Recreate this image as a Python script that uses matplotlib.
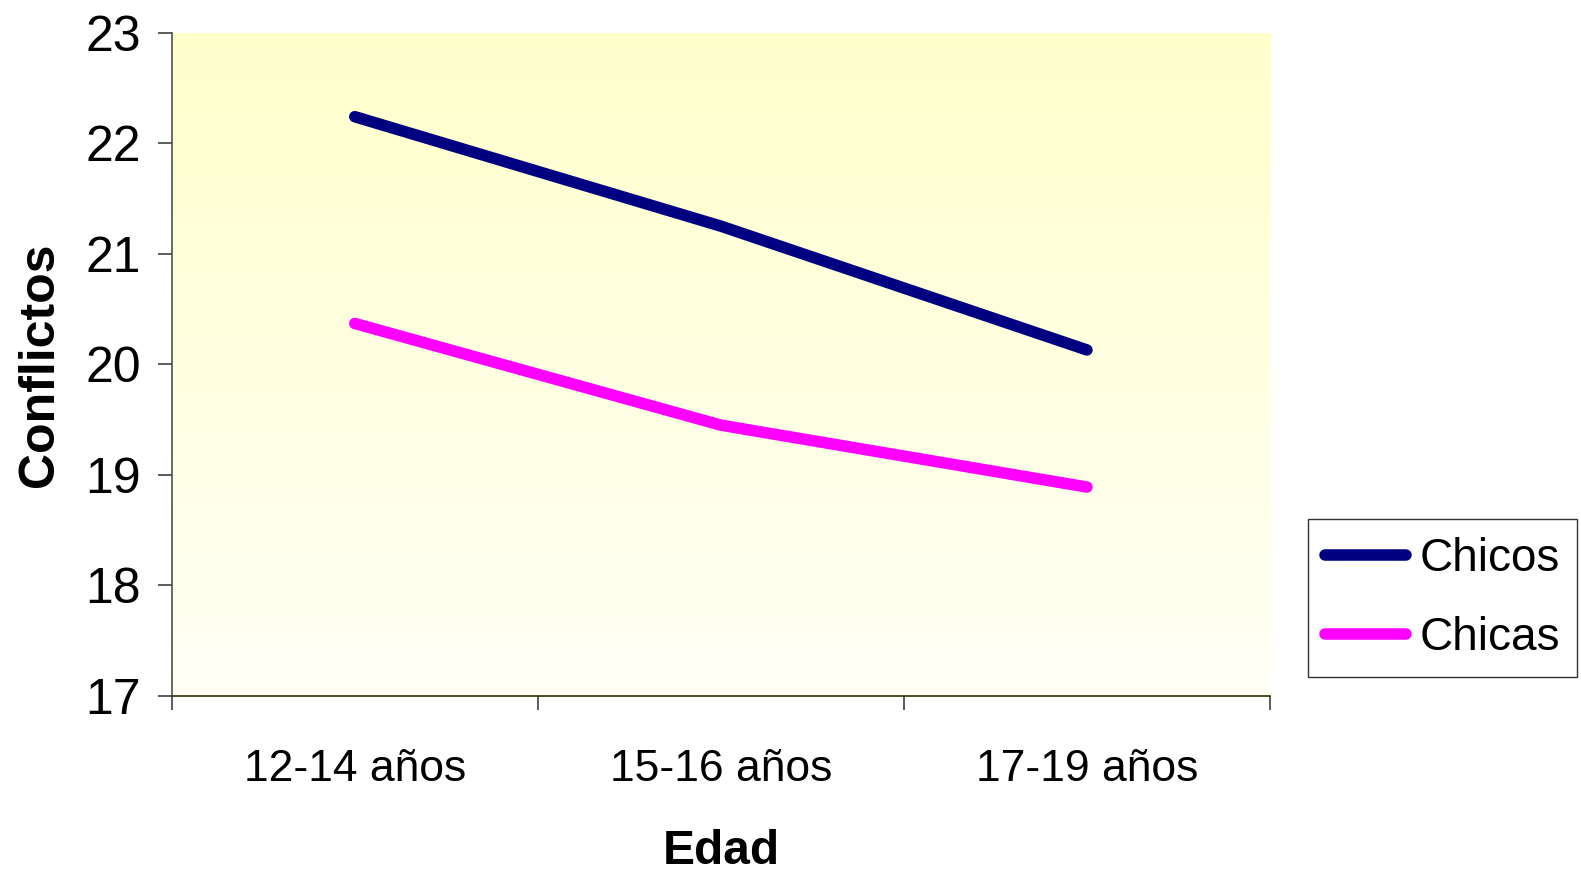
import numpy as np
import matplotlib
matplotlib.use("Agg")
import matplotlib.pyplot as plt
from matplotlib.colors import LinearSegmentedColormap

plt.rcParams['font.family'] = ['Liberation Sans', 'DejaVu Sans']

categories = ["12-14 años", "15-16 años", "17-19 años"]
chicos = [22.24, 21.25, 20.13]
chicas = [20.37, 19.45, 18.89]
y_ticks = [17, 18, 19, 20, 21, 22, 23]

fig = plt.figure(figsize=(15.81, 8.76), dpi=100)
ax = fig.add_axes([0.1086, 0.2055, 0.8033 - 0.1086, 0.9627 - 0.2055])

# vertical yellow-to-white gradient background
grad = np.linspace(0, 1, 256).reshape(-1, 1)
cmap = LinearSegmentedColormap.from_list("bg", ["#FFFFF6", "#FFFFCC"])
ax.imshow(grad, extent=[0, 1, 0, 1], transform=ax.transAxes, origin="lower",
          cmap=cmap, aspect="auto", zorder=0)

x = np.arange(len(categories)) + 0.5
ax.plot(x, chicos, color="#000080", lw=8.3, solid_capstyle="round",
        solid_joinstyle="round", label="Chicos", zorder=3)
ax.plot(x, chicas, color="#FF00FF", lw=8.3, solid_capstyle="round",
        solid_joinstyle="round", label="Chicas", zorder=3)

ax.set_xlim(0, 3)
ax.set_ylim(17, 23)
ax.set_yticks(y_ticks)
ax.set_xticks([0, 1, 2, 3])
ax.set_xticklabels([])
ax.set_xticks(x, minor=True)
ax.set_xticklabels(categories, minor=True)

ax.tick_params(axis="y", direction="out", length=10, width=1.2, color="#404040",
               labelsize=36, pad=12)
ax.tick_params(axis="x", which="major", direction="out", length=10, width=1.2,
               color="#404040")
ax.tick_params(axis="x", which="minor", length=0, labelsize=32, pad=38)

for s in ["top", "right"]:
    ax.spines[s].set_visible(False)
ax.spines["left"].set_color("#505050")
ax.spines["left"].set_linewidth(1.2)
ax.spines["bottom"].set_color("#303000")
ax.spines["bottom"].set_linewidth(1.2)

ax.set_ylabel("Conflictos", fontsize=36, fontweight="bold", labelpad=16)
ax.set_xlabel("Edad", fontsize=34.5, fontweight="bold", labelpad=28)

leg = fig.legend(loc="upper left", bbox_to_anchor=(0.8272, 0.4072),
                 bbox_transform=fig.transFigure, fontsize=33, frameon=True,
                 fancybox=False, edgecolor="black", handlelength=1.77,
                 handletextpad=0.28, borderpad=0.38, labelspacing=0.77,
                 borderaxespad=0)
leg.get_frame().set_linewidth(1.0)
for line in leg.get_lines():
    line.set_linewidth(8.3)
    line.set_solid_capstyle("round")

fig.savefig("out.png", dpi=100)
